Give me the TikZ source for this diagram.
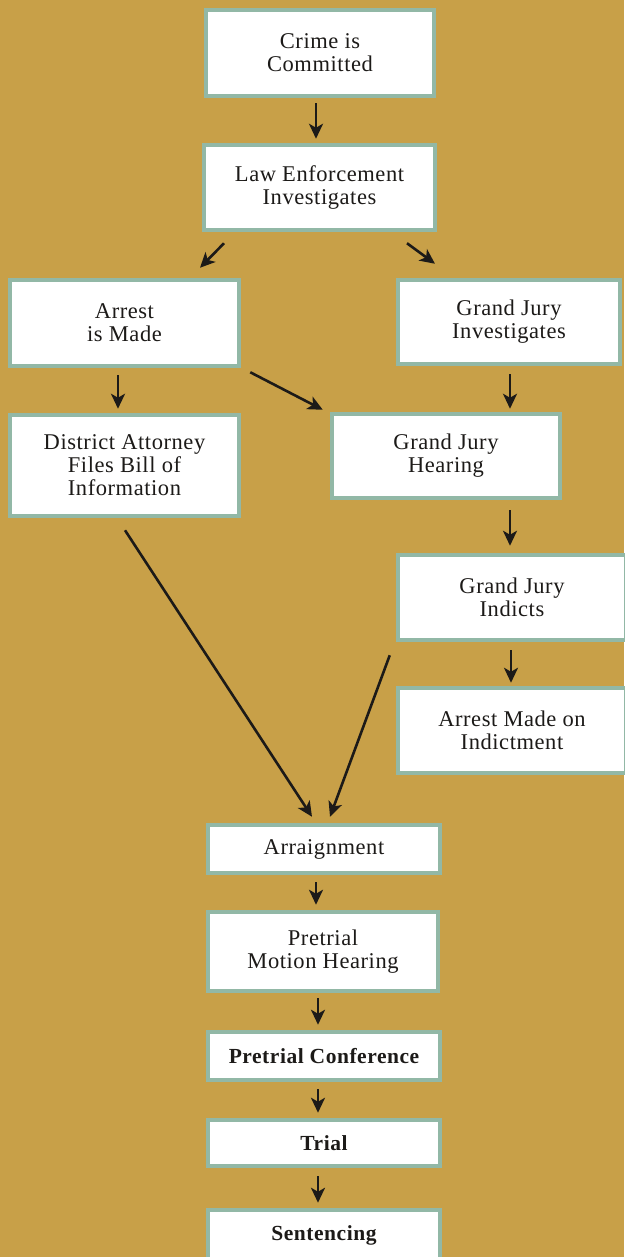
\documentclass[tikz,border=0pt]{standalone}
\usepackage{fontspec}
\setmainfont{Liberation Serif}[LetterSpace=2.5]
\usetikzlibrary{calc,arrows.meta}
\definecolor{bggold}{RGB}{200,160,72}
\definecolor{boxedge}{RGB}{146,184,166}
\definecolor{inkdark}{RGB}{28,26,24}
\tikzset{
  flowbox/.style={draw=boxedge, line width=4.5pt, fill=white, align=center,
    text=inkdark, inner sep=0pt, font=\fontsize{22.5}{23}\selectfont},
  boldbox/.style={flowbox, font=\fontsize{21.5}{23}\selectfont\bfseries},
  flowarrow/.style={draw=inkdark, line width=2.6pt,
    -{Stealth[length=15pt,width=14pt,inset=4pt]}}
}
\begin{document}
\begin{tikzpicture}[x=1pt,y=-1pt]
\fill[bggold] (0,0) rectangle (624,1257);
\useasboundingbox (0,0) rectangle (624,1257);

\node[flowbox, minimum width=228pt, minimum height=86pt] (crime) at (320,53) {Crime is\\Committed};
\node[flowbox, minimum width=231pt, minimum height=85pt] (law) at (319.5,187.5) {Law Enforcement\\Investigates};
\node[flowbox, minimum width=229pt, minimum height=86pt] (arrest) at (124.5,323) {Arrest\\is Made};
\node[flowbox, minimum width=222pt, minimum height=84pt] (gjinv) at (509,322) {Grand Jury\\Investigates};
\node[flowbox, minimum width=229pt, minimum height=101pt] (da) at (124.5,465.5) {District Attorney\\Files Bill of\\Information};
\node[flowbox, minimum width=228pt, minimum height=84pt] (gjh) at (446,456) {Grand Jury\\Hearing};
\node[flowbox, minimum width=228pt, minimum height=85pt] (gjind) at (512,597.5) {Grand Jury\\Indicts};
\node[flowbox, minimum width=228pt, minimum height=85pt] (amoi) at (512,730.5) {Arrest Made on\\Indictment};
\node[flowbox, minimum width=232pt, minimum height=48pt] (arr) at (324,849) {Arraignment};
\node[flowbox, minimum width=230pt, minimum height=79pt] (pmh) at (323,951.5) {Pretrial\\Motion Hearing};
\node[boldbox, minimum width=232pt, minimum height=48pt] (pc) at (324,1056) {Pretrial Conference};
\node[boldbox, minimum width=232pt, minimum height=46pt] (trial) at (324,1143) {Trial};
\node[boldbox, minimum width=232pt, minimum height=50pt] (sent) at (324,1235) {Sentencing};

\draw[flowarrow] ($(crime.south)+(-4,5)$) -- ($(law.north)+(-3.5,-4)$);
\draw[flowarrow] ($(law.south)+(-95.5,11)$) -- ($(arrest.north)+(75.5,-10)$);
\draw[flowarrow] ($(law.south)+(87.5,11)$) -- ($(gjinv.north)+(-74,-14)$);
\draw[flowarrow] ($(arrest.south)+(-6.5,7)$) -- ($(da.north)+(-6.5,-4)$);
\draw[flowarrow] ($(arrest.south east)+(9,4)$) -- ($(gjh.north west)+(-7,-2)$);
\draw[flowarrow] ($(gjinv.south)+(1,8)$) -- ($(gjh.north)+(64,-3)$);
\draw[flowarrow] ($(gjh.south)+(64,10)$) -- ($(gjind.north)+(-2,-7)$);
\draw[flowarrow] ($(gjind.south)+(-1,8)$) -- ($(amoi.north)+(-1,-3)$);
\draw[flowarrow] ($(da.south)+(0.5,12)$) -- ($(arr.north)+(-12,-6)$);
\draw[flowarrow] ($(gjind.south west)+(-6,13)$) -- ($(arr.north)+(6,-6)$);
\draw[flowarrow] ($(arr.south)+(-8,7)$) -- ($(pmh.north)+(-7,-5)$);
\draw[flowarrow] ($(pmh.south)+(-5,5)$) -- ($(pc.north)+(-6,-5)$);
\draw[flowarrow] ($(pc.south)+(-6,7)$) -- ($(trial.north)+(-6,-5)$);
\draw[flowarrow] ($(trial.south)+(-6,8)$) -- ($(sent.north)+(-6,-5)$);
\end{tikzpicture}
\end{document}
